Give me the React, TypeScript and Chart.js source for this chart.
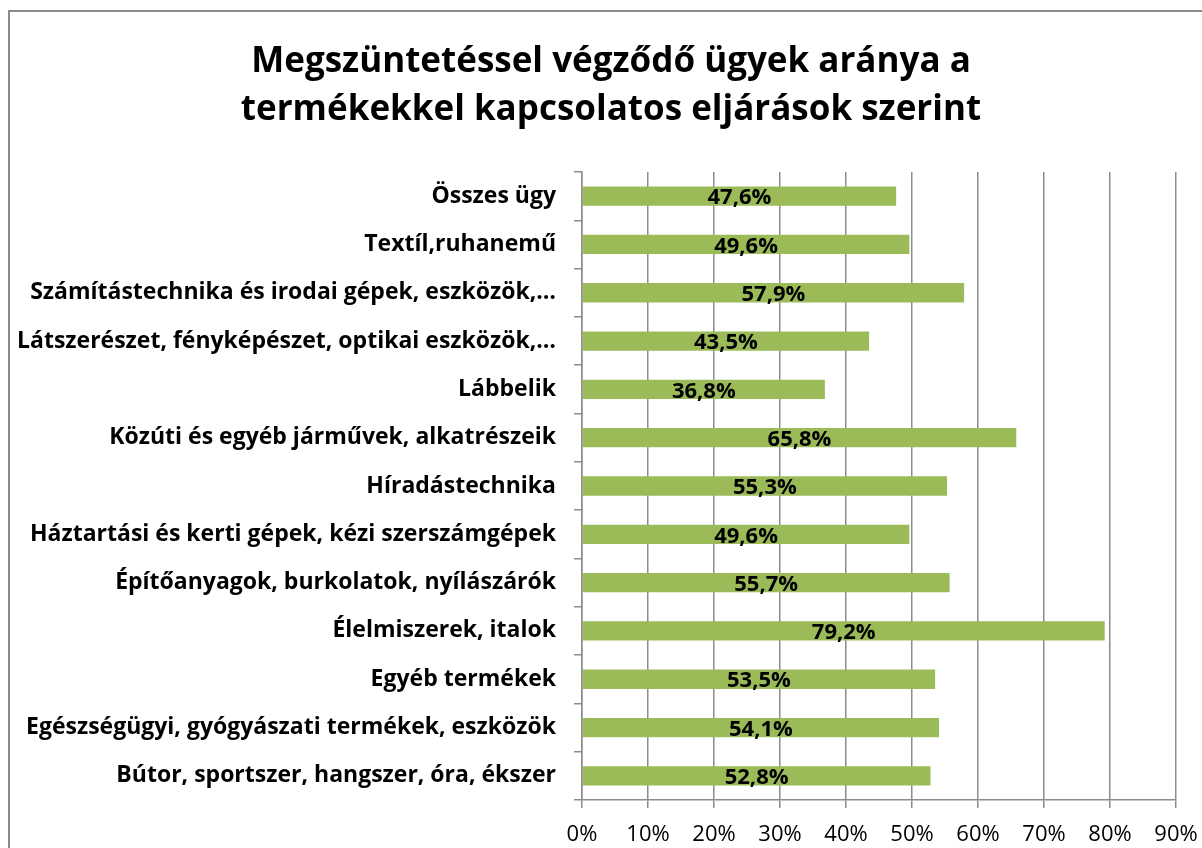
import React, { useEffect, useRef } from "react";
import { Chart, registerables } from "chart.js";

Chart.register(...registerables);

const titleLines = [
  "Megszüntetéssel végződő ügyek aránya a",
  "termékekkel kapcsolatos eljárások szerint",
];

const categories = [
  "Összes ügy",
  "Textíl,ruhanemű",
  "Számítástechnika és irodai gépek, eszközök,…",
  "Látszerészet, fényképészet, optikai eszközök,…",
  "Lábbelik",
  "Közúti és egyéb járművek, alkatrészeik",
  "Híradástechnika",
  "Háztartási és kerti gépek, kézi szerszámgépek",
  "Építőanyagok, burkolatok, nyílászárók",
  "Élelmiszerek, italok",
  "Egyéb termékek",
  "Egészségügyi, gyógyászati termékek, eszközök",
  "Bútor, sportszer, hangszer, óra, ékszer",
];

const values = [47.6, 49.6, 57.9, 43.5, 36.8, 65.8, 55.3, 49.6, 55.7, 79.2, 53.5, 54.1, 52.8];

const xMin = 0;
const xMax = 90;
const xStep = 10;

const FONT = "'Open Sans', 'Noto Sans', sans-serif";

const valueLabelPlugin = {
  id: "valueLabels",
  afterDatasetsDraw(chart: any) {
    const ctx = chart.ctx;
    const meta = chart.getDatasetMeta(0);
    ctx.save();
    ctx.font = `bold 22px ${FONT}`;
    ctx.fillStyle = "#000";
    ctx.textAlign = "center";
    ctx.textBaseline = "middle";
    meta.data.forEach((bar: any, i: number) => {
      const { x, y, base } = bar.getProps(["x", "y", "base"], true);
      const cx = (x + base) / 2;
      ctx.fillText(values[i].toFixed(1).replace(".", ",") + "%", cx, y + 2);
    });
    ctx.restore();
  },
};

// Title drawn centred on the framed chart box (which extends past the page's right edge)
const titlePlugin = {
  id: "boxTitle",
  afterDraw(chart: any) {
    const ctx = chart.ctx;
    ctx.save();
    ctx.font = `bold 35px ${FONT}`;
    ctx.fillStyle = "#000";
    ctx.textAlign = "center";
    ctx.textBaseline = "middle";
    const cx = 611;
    titleLines.forEach((line, i) => {
      ctx.fillText(line, cx, 62 + i * 48);
    });
    ctx.restore();
  },
};

export default function App() {
  const canvasRef = useRef<HTMLCanvasElement | null>(null);

  useEffect(() => {
    if (!canvasRef.current) return;
    const chart = new Chart(canvasRef.current, {
      type: "bar",
      data: {
        labels: categories,
        datasets: [
          {
            data: values,
            backgroundColor: "#9BBB59",
            borderWidth: 0,
            barPercentage: 0.4,
            categoryPercentage: 1,
          },
        ],
      },
      options: {
        indexAxis: "y",
        animation: false,
        responsive: false,
        maintainAspectRatio: false,
        layout: { padding: { top: 172, right: 26, bottom: 0, left: 0 } },
        plugins: {
          legend: { display: false },
          tooltip: { enabled: false },
          title: { display: false },
        },
        scales: {
          x: {
            min: xMin,
            max: xMax,
            ticks: {
              stepSize: xStep,
              color: "#000",
              font: { family: FONT, size: 22 },
              padding: 14,
              callback: (v: any) => `${v}%`,
            },
            grid: {
              color: "#8c8c8c",
              lineWidth: 1.5,
              tickLength: 8,
              drawOnChartArea: true,
            },
            border: { color: "#8c8c8c", width: 1.5 },
            afterFit: (scale: any) => {
              scale.height = 48;
              scale.paddingLeft = 0;
              scale.paddingRight = 0;
            },
          },
          y: {
            ticks: {
              color: "#000",
              font: { family: FONT, size: 23, weight: "bold" },
              padding: 18,
              autoSkip: false,
            },
            grid: {
              drawOnChartArea: false,
              color: "#8c8c8c",
              lineWidth: 1.5,
              tickLength: 8,
            },
            border: { color: "#8c8c8c", width: 1.5 },
            afterFit: (scale: any) => {
              scale.width = 582;
              scale.paddingTop = 0;
              scale.paddingBottom = 0;
            },
          },
        },
      },
      plugins: [valueLabelPlugin, titlePlugin],
    });
    return () => chart.destroy();
  }, []);

  return (
    <div
      style={{
        position: "fixed",
        left: 0,
        top: 0,
        width: 1202,
        height: 848,
        overflow: "hidden",
        background: "#fff",
      }}
    >
      <div
        style={{
          position: "absolute",
          left: 8,
          top: 10,
          width: 1300,
          height: 1000,
          border: "2px solid #8a8a8a",
          boxSizing: "border-box",
        }}
      />
      <canvas
        ref={canvasRef}
        width={1202}
        height={848}
        style={{ position: "absolute", left: 0, top: 0, width: 1202, height: 848 }}
      />
    </div>
  );
}
